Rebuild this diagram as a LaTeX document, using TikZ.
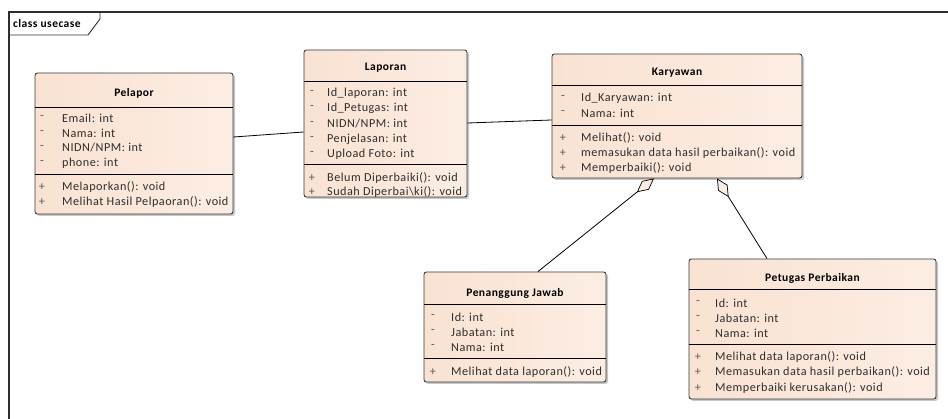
\documentclass[tikz,border=0pt]{standalone}
\usepackage{fontspec}
\setmainfont{Carlito}[LetterSpace=4]
\usetikzlibrary{arrows.meta,shadows}
\definecolor{boxfillL}{HTML}{F9E2D2}
\definecolor{boxfillR}{HTML}{FCEDE3}
\definecolor{boxline}{HTML}{3A3A3A}
\definecolor{txt}{HTML}{2E2E2E}
\definecolor{framecol}{HTML}{2E2E2E}
\begin{document}
\begin{tikzpicture}[x=1pt,y=-1pt,
  classbox/.style={draw=boxline, line width=0.9pt, rounded corners=2.5pt,
    left color=boxfillL, right color=boxfillR, inner sep=0pt,
    drop shadow={shadow xshift=2pt, shadow yshift=-2pt, opacity=0.22, fill=black}},
  title/.style={font=\fontsize{11.5}{13}\selectfont\bfseries, text=black, inner sep=0pt},
  member/.style={font=\fontsize{12.2}{14}\selectfont, text=txt, anchor=west, inner sep=0pt},
  vis/.style={font=\fontsize{12.2}{14}\selectfont, text=black!65, inner sep=0pt},
  sepline/.style={draw=black, line width=0.8pt},
  link/.style={draw=black, line width=0.8pt},
  aggr/.style={link, -{Diamond[length=22pt, width=11pt, fill=boxfillR, line width=0.7pt]}}
]
\useasboundingbox (0,0) rectangle (948,419);
\fill[white] (0,0) rectangle (948,419);

% diagram frame and its label tab
\draw[framecol, line width=1.3pt] (948,12) -- (9,12) -- (9,419);
\draw[framecol, line width=0.9pt] (9,35) -- (88,35) -- (100,19) -- (100,12);
\node[font=\fontsize{11.5}{13}\selectfont\bfseries, anchor=west, inner sep=0pt] (frametitle) at (13,24) {class usecase};

% ---------- Pelapor ----------
\node[classbox, minimum width=198pt, minimum height=141pt] (pelapor) at (134,143.5) {};
\node[title] (pelaporT) at (134,93) {Pelapor};
\draw[sepline] (pelapor.west |- 0,107) -- (pelapor.east |- 0,107);
\draw[sepline] (pelapor.west |- 0,174) -- (pelapor.east |- 0,174);
\foreach \y/\t in {118/{Email: int}, 133/{Nama: int}, 148/{NIDN/NPM: int}, 163/{phone: int}}{
  \node[vis] at (42,\y) {-};
  \node[member] at (62,\y) {\t};}
\foreach \y/\t in {187/{Melaporkan(): void}, 202/{Melihat Hasil Pelpaoran(): void}}{
  \node[vis] at (42,\y) {+};
  \node[member] at (62,\y) {\t};}

% ---------- Laporan ----------
\node[classbox, minimum width=163pt, minimum height=147pt] (laporan) at (385.5,123.5) {};
\node[title] (laporanT) at (385.5,68) {Laporan};
\draw[sepline] (laporan.west |- 0,81) -- (laporan.east |- 0,81);
\draw[sepline] (laporan.west |- 0,164) -- (laporan.east |- 0,164);
\foreach \y/\t in {93/{Id\_laporan: int}, 108/{Id\_Petugas: int}, 124/{NIDN/NPM: int}, 139/{Penjelasan: int}, 154/{Upload Foto: int}}{
  \node[vis] at (312,\y) {-};
  \node[member] at (327,\y) {\t};}
\foreach \y/\t in {178/{Belum Diperbaiki(): void}, 192/{Sudah Diperbai\textbackslash ki(): void}}{
  \node[vis] at (312,\y) {+};
  \node[member] at (327,\y) {\t};}

% ---------- Karyawan ----------
\node[classbox, minimum width=250pt, minimum height=124pt] (karyawan) at (677,116) {};
\node[title] (karyawanT) at (677,73) {Karyawan};
\draw[sepline] (karyawan.west |- 0,85) -- (karyawan.east |- 0,85);
\draw[sepline] (karyawan.west |- 0,125) -- (karyawan.east |- 0,125);
\foreach \y/\t in {98/{Id\_Karyawan: int}, 113/{Nama: int}}{
  \node[vis] at (563,\y) {-};
  \node[member] at (581,\y) {\t};}
\foreach \y/\t in {138/{Melihat(): void}, 153/{memasukan data hasil perbaikan(): void}, 168/{Memperbaiki(): void}}{
  \node[vis] at (563,\y) {+};
  \node[member] at (581,\y) {\t};}

% ---------- Penanggung Jawab ----------
\node[classbox, minimum width=182pt, minimum height=110pt] (pj) at (515,327) {};
\node[title] (pjT) at (515,293) {Penanggung Jawab};
\draw[sepline] (pj.west |- 0,304) -- (pj.east |- 0,304);
\draw[sepline] (pj.west |- 0,358) -- (pj.east |- 0,358);
\foreach \y/\t in {317/{Id: int}, 332/{Jabatan: int}, 347/{Nama: int}}{
  \node[vis] at (433,\y) {-};
  \node[member] at (451,\y) {\t};}
\node[vis] at (433,372) {+};
\node[member] at (451,372) {Melihat data laporan(): void};

% ---------- Petugas Perbaikan ----------
\node[classbox, minimum width=247pt, minimum height=140pt] (petugas) at (812.5,329) {};
\node[title] (petugasT) at (812.5,278) {Petugas Perbaikan};
\draw[sepline] (petugas.west |- 0,289) -- (petugas.east |- 0,289);
\draw[sepline] (petugas.west |- 0,344) -- (petugas.east |- 0,344);
\foreach \y/\t in {303/{Id: int}, 318/{Jabatan: int}, 333/{Nama: int}}{
  \node[vis] at (698,\y) {-};
  \node[member] at (715,\y) {\t};}
\foreach \y/\t in {357/{Melihat data laporan(): void}, 372/{Memasukan data hasil perbaikan(): void}, 388/{Memperbaiki kerusakan(): void}}{
  \node[vis] at (698,\y) {+};
  \node[member] at (715,\y) {\t};}

% ---------- associations ----------
\draw[link] ([yshift=6.5pt]pelapor.east) -- ([yshift=-8.5pt]laporan.west);
\draw[link] ([yshift=0.5pt]laporan.east) -- ([yshift=-4pt]karyawan.west);

% ---------- aggregations ----------
\draw[aggr] ([xshift=23pt]pj.north) -- ([xshift=-23pt]karyawan.south);
\draw[aggr] ([xshift=-45.5pt]petugas.north) -- ([xshift=40pt]karyawan.south);
\end{tikzpicture}
\end{document}
